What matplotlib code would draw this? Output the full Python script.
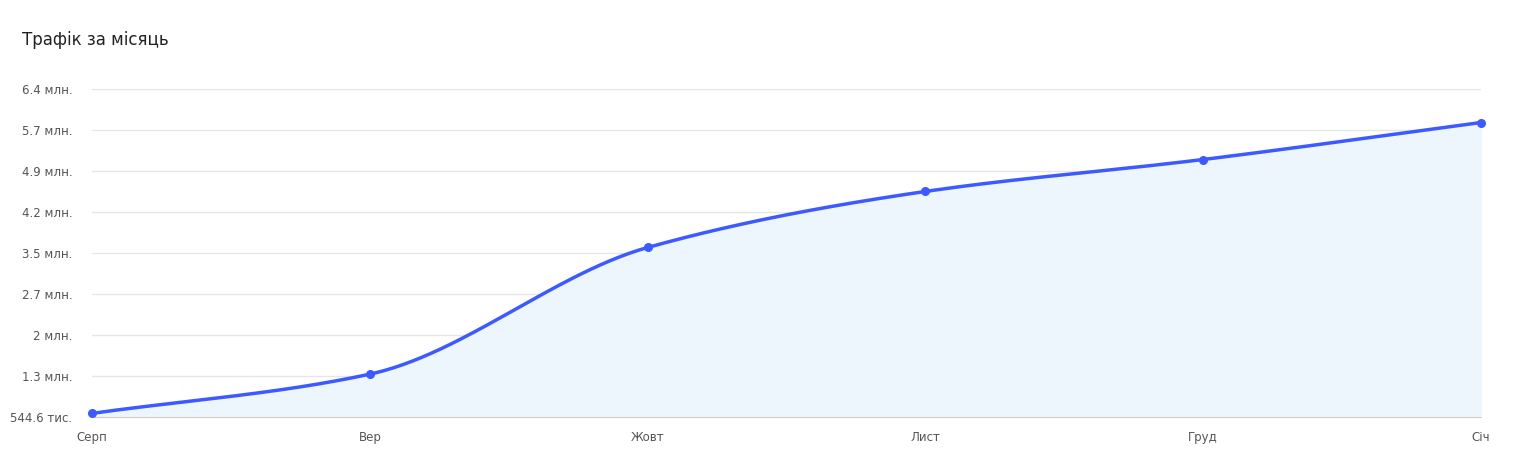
import numpy as np
import matplotlib.pyplot as plt

months = ["Серп", "Вер", "Жовт", "Лист", "Груд", "Січ"]
traffic = [0.61, 1.31, 3.57, 4.57, 5.14, 5.80]  # million
y_ticks = [0.5446, 1.276, 2.0076, 2.739, 3.47, 4.2, 4.93, 5.67, 6.396]
y_labels = ["544.6 тис.", "1.3 млн.", "2 млн.", "2.7 млн.", "3.5 млн.",
            "4.2 млн.", "4.9 млн.", "5.7 млн.", "6.4 млн."]


# Monotone cubic (Fritsch-Carlson) for a smooth spline through the points
def monotone_curve(x, y, n=60):
    x = np.asarray(x, float)
    y = np.asarray(y, float)
    h = np.diff(x)
    d = np.diff(y) / h
    m = np.zeros_like(y)
    m[0], m[-1] = d[0], d[-1]
    for i in range(1, len(y) - 1):
        if d[i - 1] * d[i] > 0:
            m[i] = 2 / (1 / d[i - 1] + 1 / d[i])
    xs, ys = [], []
    for i in range(len(h)):
        t = np.linspace(0, 1, n)
        h00 = 2 * t**3 - 3 * t**2 + 1
        h10 = t**3 - 2 * t**2 + t
        h01 = -2 * t**3 + 3 * t**2
        h11 = t**3 - t**2
        xs.append(x[i] + t * h[i])
        ys.append(h00 * y[i] + h10 * h[i] * m[i] + h01 * y[i + 1] + h11 * h[i] * m[i + 1])
    return np.concatenate(xs), np.concatenate(ys)


x = np.arange(len(months))
cx, cy = monotone_curve(x, traffic)

fig = plt.figure(figsize=(15.21, 4.75), dpi=100)
ax = fig.add_axes([0.0605, 0.122, 0.9132, 0.6904])

line_color = "#3d5afe"
ax.fill_between(cx, y_ticks[0], cy, color="#eef6fd", zorder=1)
ax.plot(cx, cy, color=line_color, lw=2.5, zorder=3, solid_capstyle="round")
ax.plot(x, traffic, "o", color=line_color, ms=5.5, zorder=4, clip_on=False)

ax.set_xlim(0, len(months) - 1)
ax.set_ylim(y_ticks[0], y_ticks[-1])
ax.set_yticks(y_ticks)
ax.set_yticklabels(y_labels)
ax.set_xticks(x)
ax.set_xticklabels(months)
ax.tick_params(axis="both", length=0, labelsize=8.5, colors="#555555")
ax.tick_params(axis="x", pad=10)
ax.tick_params(axis="y", pad=14)
ax.grid(axis="y", color="#e6e6e6", lw=1)
ax.set_axisbelow(True)
for side in ["top", "right", "left"]:
    ax.spines[side].set_visible(False)
ax.spines["bottom"].set_color("#cccccc")

fig.text(22 / 1521, 1 - 40 / 475, "Трафік за місяць", fontsize=12, color="#222222", va="center", ha="left")

fig.savefig("out.png", dpi=100)
